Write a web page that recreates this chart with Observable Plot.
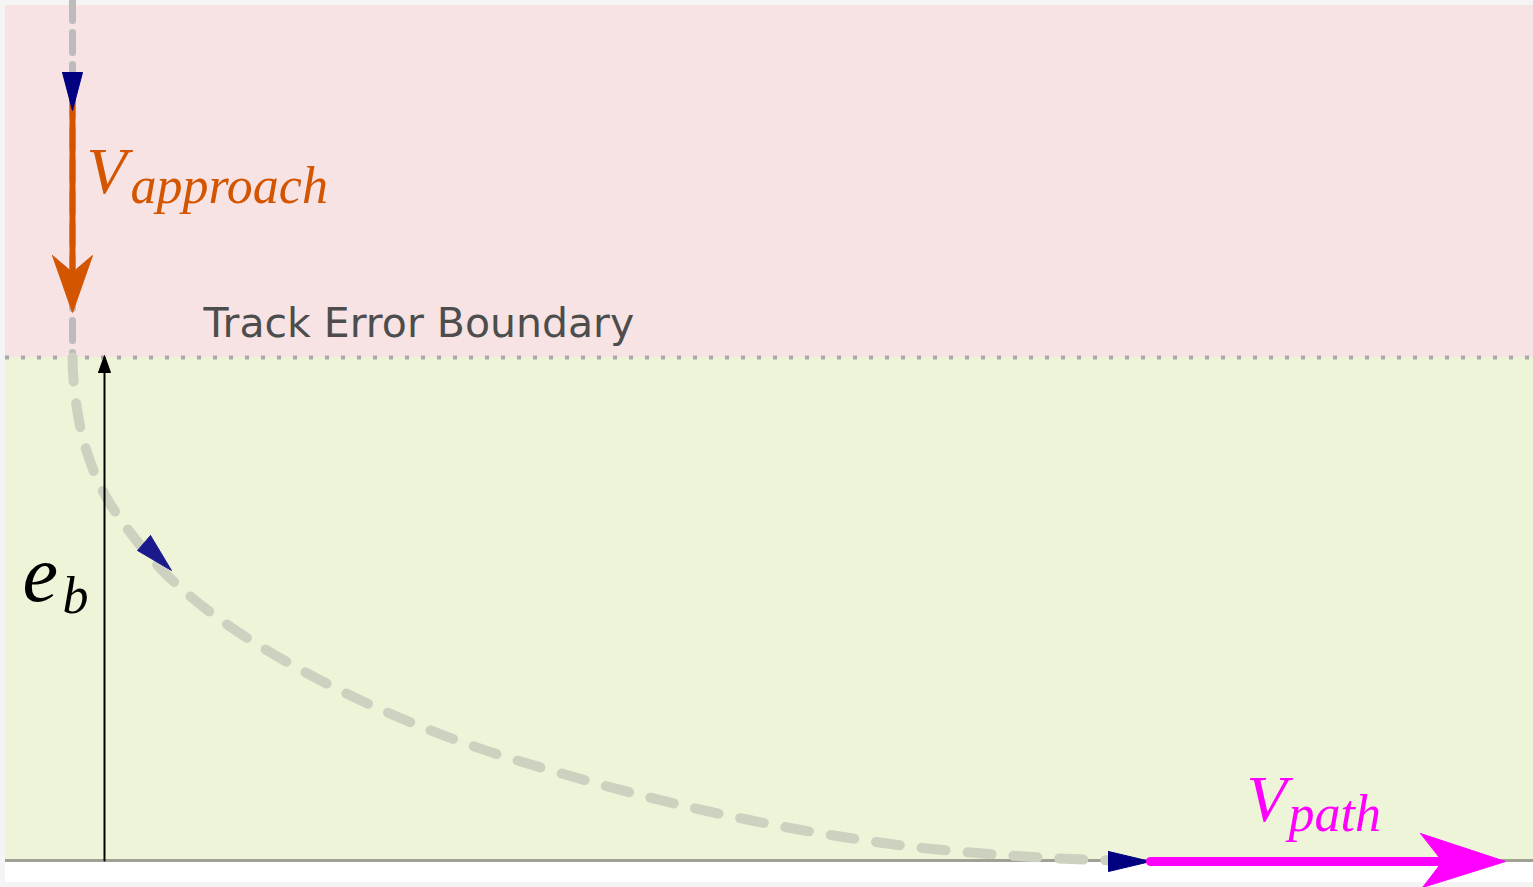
<!DOCTYPE html>
<html><head><meta charset="utf-8">
<script src="https://cdn.jsdelivr.net/npm/d3@7"></script>
<script src="https://cdn.jsdelivr.net/npm/@observablehq/plot@0.6"></script>
<style>body{margin:0;background:#f4f4f4}</style>
</head><body><div id="chart"></div>
<script>
const zones = [
  {x1: 5, x2: 1533, y1: 5, y2: 357, fill: "#f7e3e4"},
  {x1: 5, x2: 1533, y1: 357, y2: 860, fill: "#eef4d8"},
  {x1: 5, x2: 1533, y1: 860, y2: 882, fill: "#ffffff"}
];
const approachLine = [{x: 72, y: 0}, {x: 72, y: 357}];
const curvePts = [[72,357],[74,390],[83,440],[102,490],[132,535],[172,580],[228,625],[298,668],[378,708],[468,744],[568,775],[678,804],[798,829],[918,847],[1040,857],[1110,860]].map(([x,y])=>({x,y}));
const orangeShaft = [{x: 72, y: 100}, {x: 72, y: 280}];
const orangeHead = [[52,255],[72,312],[92,255],[72,272]].map(([x,y])=>({x,y}));
const navyTop = [[62,72],[82,72],[72,110]].map(([x,y])=>({x,y}));
const navyMid = [[150,535],[137,550],[171,570]].map(([x,y])=>({x,y}));
const navyBot = [[1108,851],[1108,871],[1150,861]].map(([x,y])=>({x,y}));
const magShaft = [{x: 1150, y: 861}, {x: 1450, y: 861}];
const magHead = [[1420,833],[1505,861],[1422,887],[1442,861]].map(([x,y])=>({x,y}));
const ebArrow = [{x: 104, y: 860}, {x: 104, y: 372}];
const ebHead = [[98,372],[104,355],[110,372]].map(([x,y])=>({x,y}));
const labelsItalic = [
  {x: 86, y: 192, t: "V", s: 66, c: "#d45500"},
  {x: 130, y: 202, t: "approach", s: 52, c: "#d45500"},
  {x: 22, y: 600, t: "e", s: 80, c: "#000"},
  {x: 62, y: 612, t: "b", s: 52, c: "#000"},
  {x: 1246, y: 820, t: "V", s: 66, c: "#ff00ff"},
  {x: 1288, y: 830, t: "path", s: 52, c: "#ff00ff"}
];
const poly = (d, fill) => Plot.line(d.concat([d[0]]), {x: "x", y: "y", fill, stroke: fill, strokeWidth: 1});
const chart = Plot.plot({
  width: 1533, height: 887, margin: 0,
  x: {domain: [0, 1533], axis: null},
  y: {domain: [0, 887], reverse: true, axis: null},
  style: {background: "#f4f4f4"},
  marks: [
    Plot.rect(zones, {x1: "x1", x2: "x2", y1: "y1", y2: "y2", fill: "fill"}),
    Plot.ruleY([860], {x1: 5, x2: 1533, stroke: "#9ea193", strokeWidth: 3}),
    Plot.ruleY([357], {x1: 5, x2: 1533, stroke: "#a8a8a8", strokeWidth: 4, strokeDasharray: "4,12"}),
    Plot.line(approachLine, {x: "x", y: "y", stroke: "#bcbcbc", strokeWidth: 7, strokeDasharray: "20,12"}),
    Plot.line(curvePts, {x: "x", y: "y", curve: "catmull-rom", stroke: "#cdd1c0", strokeWidth: 10, strokeDasharray: "24,22"}),
    Plot.line(ebArrow, {x: "x", y: "y", stroke: "#000", strokeWidth: 2}),
    poly(ebHead, "#000"),
    Plot.line(orangeShaft, {x: "x", y: "y", stroke: "#d45500", strokeWidth: 6}),
    poly(orangeHead, "#d45500"),
    poly(navyTop, "#000080"),
    poly(navyMid, "#1a1a8c"),
    poly(navyBot, "#000080"),
    Plot.line(magShaft, {x: "x", y: "y", stroke: "#ff00ff", strokeWidth: 9}),
    poly(magHead, "#ff00ff"),
    Plot.text(["Track Error Boundary"], {x: 203, y: 336, text: d => d, textAnchor: "start", lineAnchor: "bottom", fontSize: 41, fill: "#4d4d4d", fontFamily: "DejaVu Sans"}),
    Plot.text(labelsItalic, {x: "x", y: "y", text: "t", fill: "c", fontSize: "s", textAnchor: "start", lineAnchor: "bottom", fontStyle: "italic", fontFamily: "Liberation Serif"})
  ]
});
document.getElementById("chart").append(chart);
</script></body></html>
